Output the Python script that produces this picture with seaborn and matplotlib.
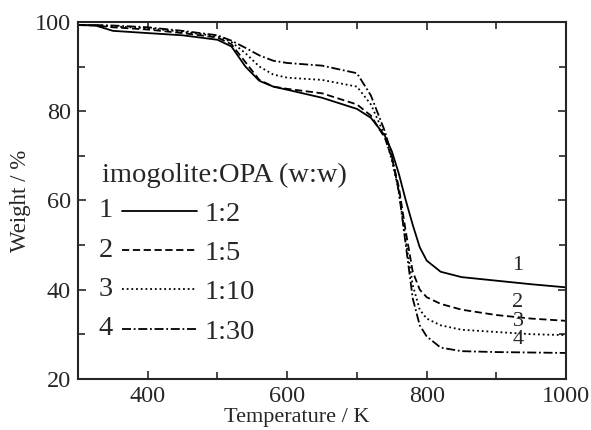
import pandas as pd
import matplotlib.pyplot as plt
import seaborn as sns
from matplotlib.ticker import MultipleLocator

# temperature grid (K) and weight (%)
temp = [300, 325, 350, 400, 450, 500, 520, 540, 560, 580, 600, 650, 700,
        720, 740, 750, 760, 770, 780, 790, 800, 820, 850, 900, 950, 1000]

w_1_2 = [99.3, 99.2, 98.0, 97.5, 97.0, 96.0, 94.5, 90.0, 86.8, 85.5, 84.8, 83.0, 80.5,
         78.5, 74.5, 71.0, 66.0, 60.0, 54.5, 49.5, 46.5, 44.0, 42.8, 42.0, 41.2, 40.5]
w_1_5 = [99.3, 99.2, 98.8, 98.3, 97.5, 96.5, 95.0, 91.0, 87.0, 85.5, 85.0, 84.0, 81.5,
         79.0, 74.0, 69.5, 63.0, 53.0, 44.0, 40.0, 38.3, 36.8, 35.5, 34.3, 33.5, 33.0]
w_1_10 = [99.3, 99.3, 99.0, 98.6, 97.8, 96.8, 95.5, 93.0, 90.0, 88.2, 87.5, 87.0, 85.5,
          81.5, 74.5, 69.0, 62.0, 51.0, 41.0, 35.5, 33.5, 32.0, 31.0, 30.5, 30.0, 29.8]
w_1_30 = [99.3, 99.3, 99.2, 98.8, 98.0, 97.0, 95.8, 94.2, 92.5, 91.3, 90.8, 90.2, 88.5,
          83.5, 75.5, 70.0, 62.0, 50.0, 38.0, 32.0, 29.5, 27.0, 26.2, 26.0, 25.9, 25.8]

ratios = ['1:2', '1:5', '1:10', '1:30']
numbers = ['1', '2', '3', '4']
legend_title = 'imogolite:OPA (w:w)'
# where the curve numbers sit on the right side (K, %)
num_x = [931, 931, 931, 931]
num_y = [45.5, 37.0, 32.8, 28.8]

df = pd.concat([
    pd.DataFrame({'T': temp, 'W': w, 'ratio': r})
    for w, r in zip([w_1_2, w_1_5, w_1_10, w_1_30], ratios)
])

sns.set_style('ticks')
plt.rcParams['font.family'] = ['Liberation Serif', 'DejaVu Serif']

fig = plt.figure(figsize=(5.91, 4.30), dpi=100)
ax = fig.add_axes([0.132, 0.119, 0.826, 0.830])

dashes = {'1:2': '', '1:5': (4, 2), '1:10': (1, 1.6), '1:30': (5, 1.5, 1, 1.5)}
sns.lineplot(data=df, x='T', y='W', style='ratio', style_order=ratios,
             dashes=dashes, color='black', linewidth=1.3, estimator=None,
             sort=False, legend=False, ax=ax)

ax.set_xlim(300, 1000)
ax.set_ylim(20, 100)
ax.xaxis.set_major_locator(MultipleLocator(200))
ax.xaxis.set_minor_locator(MultipleLocator(100))
ax.yaxis.set_major_locator(MultipleLocator(20))
ax.yaxis.set_minor_locator(MultipleLocator(10))
ax.tick_params(which='both', direction='in', top=True, right=True,
               width=1.2, labelsize=17.5, pad=5)
ax.tick_params(which='major', length=6)
ax.tick_params(which='minor', length=5)
for s in ax.spines.values():
    s.set_linewidth(1.5)

ax.set_xlabel('Temperature / K', fontsize=16, va='center')
ax.xaxis.set_label_coords(0.449, -0.108)
ax.set_ylabel('Weight / %', fontsize=16.5, va='center')
ax.yaxis.set_label_coords(-0.117, 0.5)

for n, x, y in zip(numbers, num_x, num_y):
    ax.text(x, y, n, fontsize=16, ha='center', va='center')

# legend: title as text, ratio labels with line keys, numbers in front
ax.text(0.049, 0.571, legend_title, transform=ax.transAxes, fontsize=20.5,
        ha='left', va='center')

handles = ax.lines[:4]
leg_x, leg_y = 0.09, 0.52
leg = ax.legend(handles, ratios, frameon=False, loc='upper left',
                bbox_to_anchor=(leg_x, leg_y), fontsize=20.5,
                handlelength=2.63, handletextpad=0.28, labelspacing=0.47,
                borderpad=0, borderaxespad=0)

# nudge the legend so that the first key sits at the row height of the original
fig.canvas.draw()
bb = leg.legend_handles[0].get_window_extent()
target = ax.transAxes.transform((0, 0.4706))[1]
dy = (target - (bb.y0 + bb.y1) / 2) / ax.get_window_extent().height
leg.set_bbox_to_anchor((leg_x, leg_y + dy), transform=ax.transAxes)

fig.canvas.draw()
inv = ax.transAxes.inverted()
for n, h in zip(numbers, leg.legend_handles):
    bb = h.get_window_extent()
    x0, y0 = inv.transform((bb.x0, (bb.y0 + bb.y1) / 2))
    ax.text(x0 - 0.018, y0, n, transform=ax.transAxes, fontsize=20.5,
            ha='right', va='center')

fig.savefig('out.png', dpi=100)
